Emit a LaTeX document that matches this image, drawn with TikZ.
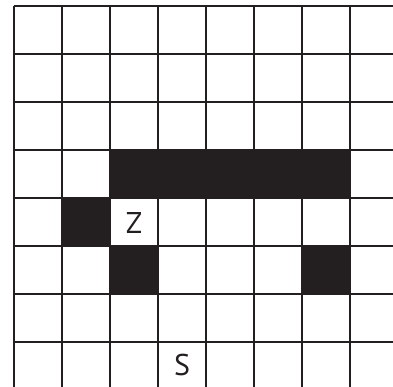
\documentclass[tikz,border=0pt]{standalone}
\usepackage{fontspec}
\setmainfont{PT Sans}
\definecolor{ink}{HTML}{231F20}
\begin{document}
\begin{tikzpicture}[x=1pt,y=-1pt,
  cellfill/.style={fill=ink,draw=none},
  gridline/.style={draw=ink,line width=1.6pt},
  letter/.style={font=\fontsize{30}{30}\selectfont,text=ink,inner sep=0pt}]
\useasboundingbox (0,0) rectangle (393,387);
\fill[white] (0,0) rectangle (393,387);
% black cells
\path[cellfill] (110,150) rectangle (350,198);
\path[cellfill] (62,198) rectangle (110,246);
\path[cellfill] (110,246) rectangle (158,294);
\path[cellfill] (302,246) rectangle (350,294);
% grid
\foreach \x in {14,62,110,158,206,254,302,350}
  \draw[gridline] (\x,6) -- (\x,387);
\foreach \y in {6,54,102,150,198,246,294,342}
  \draw[gridline] (14,\y) -- (393,\y);
% letters
\node[letter] (z) at (134,223) {Z};
\node[letter] (s) at (182,365) {S};
\end{tikzpicture}
\end{document}
